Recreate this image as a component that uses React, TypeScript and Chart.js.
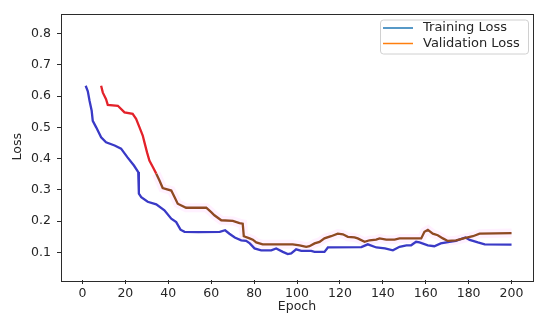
import React, { useEffect, useRef } from "react";
import { Chart, registerables } from "chart.js";

Chart.register(...registerables);

const trainEpochs = [1.5, 2.5, 3.3, 4.3, 4.8, 6.4, 8.7, 11, 15, 18, 21, 24, 26, 26.3, 27.4, 30.4, 34.4, 38.2, 41.4, 43.7, 45.7, 47.6, 54, 64, 66.5, 68.5, 71, 74, 76.3, 78, 80.2, 83.3, 88, 90.3, 93.4, 95.7, 97.3, 99.6, 102, 106.6, 108.2, 112.8, 114.4, 130, 133, 137, 141, 144.7, 147.8, 151, 153.2, 155.5, 157.1, 161, 164, 167, 171, 174, 178.5, 180.5, 184.3, 187.5, 200];
const trainLoss = [0.633, 0.615, 0.585, 0.553, 0.521, 0.5, 0.468, 0.452, 0.442, 0.432, 0.404, 0.378, 0.357, 0.288, 0.277, 0.262, 0.254, 0.235, 0.208, 0.197, 0.173, 0.166, 0.165, 0.166, 0.171, 0.16, 0.148, 0.139, 0.137, 0.129, 0.113, 0.107, 0.107, 0.113, 0.102, 0.095, 0.097, 0.11, 0.105, 0.105, 0.102, 0.102, 0.116, 0.117, 0.126, 0.116, 0.113, 0.107, 0.118, 0.123, 0.123, 0.134, 0.132, 0.123, 0.12, 0.129, 0.134, 0.137, 0.148, 0.14, 0.132, 0.126, 0.125];

const valEpochs = [8.7, 9.5, 11, 11.8, 16.5, 19.6, 23.4, 25, 26.6, 28.1, 28.9, 30.1, 31.2, 32.8, 34.4, 35.9, 37.4, 41.4, 42.9, 44.4, 48.3, 57.7, 60, 61.5, 64.7, 70.1, 73.2, 74.7, 75.2, 77.9, 79.4, 81, 84, 98, 101.2, 104.3, 105.8, 108.2, 110.5, 112.8, 115.9, 119, 121.4, 123.7, 126.8, 128.3, 131.5, 133.8, 136.9, 138.5, 141.6, 145.5, 147.8, 157.9, 159.4, 161, 163.3, 165.6, 168, 170.3, 174.2, 178.1, 182, 185.1, 200];
const valLoss = [0.633, 0.611, 0.59, 0.572, 0.569, 0.548, 0.543, 0.527, 0.5, 0.474, 0.452, 0.42, 0.394, 0.373, 0.352, 0.33, 0.306, 0.298, 0.277, 0.256, 0.243, 0.243, 0.229, 0.219, 0.203, 0.201, 0.194, 0.192, 0.152, 0.145, 0.141, 0.132, 0.126, 0.126, 0.123, 0.118, 0.12, 0.129, 0.134, 0.145, 0.152, 0.16, 0.158, 0.15, 0.148, 0.145, 0.134, 0.139, 0.141, 0.145, 0.141, 0.141, 0.145, 0.145, 0.166, 0.172, 0.16, 0.155, 0.145, 0.137, 0.139, 0.146, 0.152, 0.16, 0.162];

const xTicks = [0, 20, 40, 60, 80, 100, 120, 140, 160, 180, 200];
const yTicks = [0.1, 0.2, 0.3, 0.4, 0.5, 0.6, 0.7, 0.8];
const seriesNames = ["Training Loss", "Validation Loss"];
const legendColors = ["#1f77b4", "#ff7f0e"];
const xTitle = "Epoch";
const yTitle = "Loss";

const FONT = "'DejaVu Sans', sans-serif";

export default function App() {
  const ref = useRef<HTMLCanvasElement>(null);

  useEffect(() => {
    if (!ref.current) return;

    const framePlugin = {
      id: "frame",
      afterDraw(chart: any) {
        const { ctx, chartArea } = chart;
        const { left, top, right, bottom } = chartArea;
        ctx.save();
        ctx.strokeStyle = "#2b2b2b";
        ctx.lineWidth = 1;
        ctx.strokeRect(Math.round(left) + 0.5, Math.round(top) + 0.5, Math.round(right - left), Math.round(bottom - top));

        // legend
        const bx = right - 153;
        const by = top + 6;
        const bw = 148;
        const bh = 34;
        ctx.fillStyle = "rgba(255,255,255,0.85)";
        ctx.strokeStyle = "#d0d0d0";
        ctx.beginPath();
        (ctx as any).roundRect(bx + 0.5, by + 0.5, bw, bh, 3);
        ctx.fill();
        ctx.stroke();
        ctx.font = `13px ${FONT}`;
        ctx.textBaseline = "middle";
        seriesNames.forEach((name, i) => {
          const y = by + 8.5 + i * 15.5;
          ctx.strokeStyle = legendColors[i];
          ctx.lineWidth = 1.5;
          ctx.beginPath();
          ctx.moveTo(bx + 3, y);
          ctx.lineTo(bx + 33, y);
          ctx.stroke();
          ctx.fillStyle = "#262626";
          ctx.fillText(name, bx + 43, y);
        });
        ctx.restore();
      },
    };

    const chart = new Chart(ref.current, {
      type: "line",
      data: {
        datasets: [
          {
            label: "halo",
            data: valEpochs.map((x, i) => ({ x, y: valLoss[i] })).filter((p) => p.x > 33),
            borderColor: "rgba(255, 170, 255, 0.16)",
            borderWidth: 9,
            pointRadius: 0,
            tension: 0,
            order: 3,
          },
          {
            label: seriesNames[0],
            data: trainEpochs.map((x, i) => ({ x, y: trainLoss[i] })),
            borderColor: "#3a3ac6",
            borderWidth: 2.3,
            pointRadius: 0,
            tension: 0,
            order: 2,
          },
          {
            label: seriesNames[1],
            data: valEpochs.map((x, i) => ({ x, y: valLoss[i] })),
            borderColor: "#8e4a22",
            borderWidth: 2.3,
            pointRadius: 0,
            tension: 0,
            order: 1,
            segment: {
              borderColor: (c: any) => (c.p0.parsed.x < 34 ? "#e3222a" : "#8e4a22"),
            },
          },
        ],
      },
      options: {
        animation: false,
        responsive: false,
        devicePixelRatio: 1,
        layout: { padding: { top: 11, right: 17, left: 0, bottom: 0 } },
        plugins: { legend: { display: false }, tooltip: { enabled: false } },
        scales: {
          x: {
            type: "linear",
            min: -10,
            max: 210,
            afterBuildTicks: (s: any) => {
              s.ticks = xTicks.map((v) => ({ value: v }));
            },
            afterFit: (s: any) => {
              s.height = 44;
            },
            grid: { display: true, drawOnChartArea: false, drawTicks: true, tickLength: 4, color: "#2b2b2b" },
            border: { display: false },
            ticks: {
              font: { family: FONT, size: 12.5 },
              color: "#262626",
              padding: 2,
              maxRotation: 0,
              autoSkip: false,
            },
            title: {
              display: true,
              text: xTitle,
              font: { family: FONT, size: 12.5 },
              color: "#262626",
              padding: { top: 0, bottom: 10 },
            },
          },
          y: {
            type: "linear",
            min: 0.012,
            max: 0.864,
            afterBuildTicks: (s: any) => {
              s.ticks = yTicks.map((v) => ({ value: v }));
            },
            afterFit: (s: any) => {
              s.width = 61;
            },
            grid: { display: true, drawOnChartArea: false, drawTicks: true, tickLength: 4, color: "#2b2b2b" },
            border: { display: false },
            ticks: {
              font: { family: FONT, size: 12.5 },
              color: "#262626",
              padding: 6,
              autoSkip: false,
              callback: (v: any) => Number(v).toFixed(1),
            },
            title: {
              display: true,
              text: yTitle,
              font: { family: FONT, size: 12.5 },
              color: "#262626",
              padding: { top: 10, bottom: 0 },
            },
          },
        },
      },
      plugins: [framePlugin],
    });

    return () => chart.destroy();
  }, []);

  return (
    <div style={{ position: "absolute", left: 0, top: 0, width: 550, height: 324, background: "#fff" }}>
      <canvas ref={ref} width={550} height={324} style={{ display: "block" }} />
    </div>
  );
}
